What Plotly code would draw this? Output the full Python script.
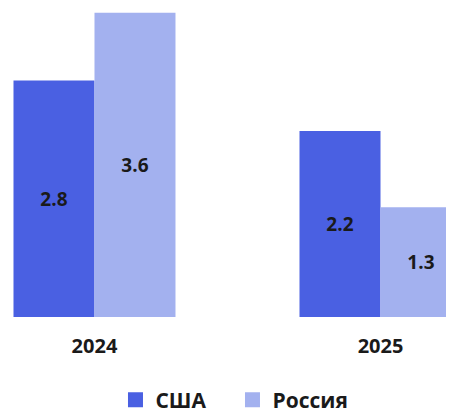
import plotly.graph_objects as go

years = ['2024', '2025']
usa = [2.8, 2.2]
russia = [3.6, 1.3]

FONT = 'Open Sans'
DARK = '#1a1a1a'
C_USA = '#4A60E2'
C_RUS = '#A3B1EF'

fig = go.Figure()
fig.add_trace(go.Bar(
    x=years, y=usa, name='США', showlegend=False,
    marker=dict(color=C_USA, line=dict(width=0)),
    text=[f'{v:.1f}' for v in usa], textposition='inside',
    insidetextanchor='middle',
    textfont=dict(family=FONT, size=19, color=DARK, weight='bold'),
))
fig.add_trace(go.Bar(
    x=years, y=russia, name='Россия', showlegend=False,
    marker=dict(color=C_RUS, line=dict(width=0)),
    text=[f'{v:.1f}' for v in russia], textposition='inside',
    insidetextanchor='middle',
    textfont=dict(family=FONT, size=19, color=DARK, weight='bold'),
))
# legend-only entries, so the swatches can be bigger than the bar default
for name, col in [('США', C_USA), ('Россия', C_RUS)]:
    fig.add_trace(go.Scatter(
        x=[None], y=[None], mode='markers', name=name,
        marker=dict(symbol='square', size=15, color=col),
    ))

# page has an 8px body margin, so the figure is 8px smaller each way
fig.update_layout(
    width=446, height=402,
    margin=dict(l=0, r=0, t=0, b=93, autoexpand=False),
    barmode='group', bargap=0.4336, bargroupgap=0,
    plot_bgcolor='white', paper_bgcolor='white',
    font=dict(family=FONT, color=DARK),
    showlegend=True,
    legend=dict(orientation='h', x=0.241, xanchor='left',
                y=-0.2686, yanchor='middle',
                entrywidth=72, entrywidthmode='pixels',
                font=dict(family=FONT, size=21, color=DARK, weight='bold'),
                itemclick=False),
)
fig.update_xaxes(type='category', range=[-0.3024, 1.257],
                 showgrid=False, zeroline=False, showline=False, ticks='',
                 tickfont=dict(family=FONT, size=20, color=DARK, weight='bold'),
                 ticklabelstandoff=15)
fig.update_yaxes(range=[0, 3.657], visible=False, showgrid=False)

fig.write_html("out.html")
